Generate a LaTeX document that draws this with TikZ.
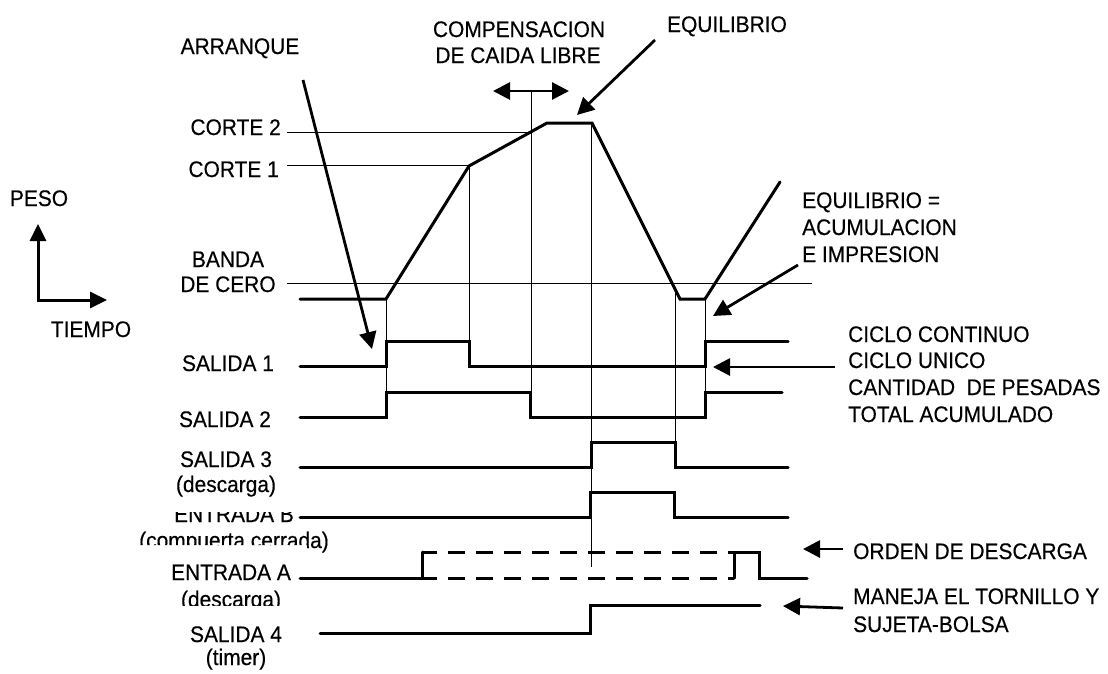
\documentclass[tikz,border=0pt]{standalone}
\usepackage{fontspec}
\setmainfont{Liberation Sans}[FakeStretch=0.93,FakeBold=0.4]
\usetikzlibrary{arrows.meta}

\begin{document}
\begin{tikzpicture}[x=1pt,y=-1pt,
    every node/.style={inner sep=0pt,font=\fontsize{22.5}{27}\selectfont},
    senal/.style={line width=3pt,line cap=round},
    guia/.style={line width=0.7pt},
    punta/.style={-{Triangle[length=17pt,width=17pt]}},
    flecha/.style={line width=2.8pt,punta}]
  \useasboundingbox (0,0) rectangle (1108,673);

  % Ejes
  \coordinate (ejeY) at (38,224);
  \coordinate (origen) at (38,300);
  \coordinate (ejeX) at (107,300);
  \draw[line width=3pt,{Triangle[length=17pt,width=16pt]}-{Triangle[length=17pt,width=16pt]}] (ejeY) -- (origen) -- (ejeX);
  \node[anchor=base] (peso) at (39,206) {PESO};
  \node[anchor=base] (tiempo) at (91,337) {TIEMPO};

  % Niveles de peso
  \node[anchor=base east] (corte2) at (281,135) {CORTE 2};
  \node[anchor=base east] (corte1) at (279,177) {CORTE 1};
  \node[anchor=base] (banda) at (228,267) {BANDA};
  \node[anchor=base] (banda2) at (228,292) {DE CERO};
  \draw[guia] (287,132) -- (530,132);
  \draw[guia] (287,165) -- (469,165);
  \draw[guia] (287,283) -- (812,283);

  % Lineas verticales de referencia
  \draw[guia] (386,299) -- (386,392);
  \draw[guia] (469,166) -- (469,341);
  \draw[guia] (531,91) -- (531,392);
  \draw[guia] (591,123) -- (591,567);
  \draw[guia] (675,289) -- (675,442);
  \draw[guia] (705,299) -- (705,392);

  % Curva de peso
  \draw[senal] (300,299) -- (386,299) -- (469,166) -- (547,123) -- (592,123)
    -- (680,299) -- (705,299) -- (780,182);

  % Salidas y entradas
  \draw[senal] (300,366) -- (386,366) -- (386,341) -- (469,341) -- (469,366)
    -- (705,366) -- (705,341) -- (788,341);
  \draw[senal] (300,417) -- (386,417) -- (386,392) -- (530,392) -- (530,417)
    -- (705,417) -- (705,392) -- (782,392);
  \draw[senal] (300,467) -- (591,467) -- (591,442) -- (675,442) -- (675,467) -- (788,467);
  \draw[senal] (300,517) -- (590,517) -- (590,492) -- (674,492) -- (674,517) -- (788,517);
  \draw[senal] (300,578) -- (422,578) -- (422,552);
  \draw[senal,line cap=butt,dash pattern=on 17pt off 11pt,dash phase=2pt] (422,552) -- (734,552);
  \draw[senal,line cap=butt,dash pattern=on 17pt off 11pt,dash phase=2pt] (422,578) -- (734,578);
  \draw[senal] (734,578) -- (734,552) -- (759,552) -- (759,578) -- (807,578);
  \draw[senal] (320,633) -- (590,633) -- (590,605) -- (760,605);

  % Nombres de las senales
  \node[anchor=base] (sal1) at (228,371) {SALIDA 1};
  \node[anchor=base] (sal2) at (225,427) {SALIDA 2};
  \node[anchor=base] (sal3) at (226,467) {SALIDA 3};
  \node[anchor=base] (sal3b) at (226,492) {(descarga)};
  \begin{scope}
    \clip (100,512) rectangle (300,530);
    \node[anchor=base] (entB) at (234,522) {ENTRADA B};
  \end{scope}
  \begin{scope}
    \clip (100,525) rectangle (307,545) (307,525) rectangle (345,558);
    \node[anchor=base] (entBb) at (234,548) {(compuerta cerrada)};
  \end{scope}
  \node[anchor=base] (entA) at (231,580) {ENTRADA A};
  \begin{scope}
    \clip (150,585) rectangle (300,605);
    \node[anchor=base] (entAb) at (231,607) {(descarga)};
  \end{scope}
  \node[anchor=base] (sal4) at (236,642) {SALIDA 4};
  \node[anchor=base] (sal4b) at (236,665) {(timer)};

  % Anotaciones
  \node[anchor=base] (arranque) at (240,54) {ARRANQUE};
  \coordinate (arrI) at (303,80);
  \coordinate (arrF) at (372,349);
  \draw[flecha] (arrI) -- (arrF);

  \node[anchor=base] (comp) at (519,37) {COMPENSACION};
  \node[anchor=base] (comp2) at (518,63) {DE CAIDA LIBRE};
  \coordinate (compI) at (493,91);
  \coordinate (compF) at (569,91);
  \draw[line width=2.8pt,{Triangle[length=17pt,width=17pt]}-{Triangle[length=17pt,width=17pt]}] (compI) -- (compF);

  \node[anchor=base] (equil) at (727,32) {EQUILIBRIO};
  \coordinate (eqI) at (655,40);
  \coordinate (eqF) at (577,115);
  \draw[flecha] (eqI) -- (eqF);

  \node[anchor=base west] (acum) at (802,208) {EQUILIBRIO =};
  \node[anchor=base west] (acum2) at (802,235) {ACUMULACION};
  \node[anchor=base west] (acum3) at (802,262) {E IMPRESION};
  \coordinate (acI) at (798,265);
  \coordinate (acF) at (713,316);
  \draw[flecha] (acI) -- (acF);

  \node[anchor=base west] (ciclo) at (848,342) {CICLO CONTINUO};
  \node[anchor=base west] (ciclo2) at (848,368) {CICLO UNICO};
  \node[anchor=base west] (ciclo3) at (848,395) {CANTIDAD\ \ DE PESADAS};
  \node[anchor=base west] (ciclo4) at (848,422) {TOTAL ACUMULADO};
  \coordinate (ciI) at (835,367);
  \coordinate (ciF) at (713,367);
  \draw[flecha] (ciI) -- (ciF);

  \node[anchor=base west] (orden) at (853,559) {ORDEN DE DESCARGA};
  \coordinate (orI) at (843,549);
  \coordinate (orF) at (803,549);
  \draw[flecha] (orI) -- (orF);

  \node[anchor=base west] (maneja) at (853,604) {MANEJA EL TORNILLO Y};
  \node[anchor=base west] (maneja2) at (853,632) {SUJETA-BOLSA};
  \coordinate (maI) at (843,608);
  \coordinate (maF) at (783,606);
  \draw[flecha] (maI) -- (maF);
\end{tikzpicture}
\end{document}
